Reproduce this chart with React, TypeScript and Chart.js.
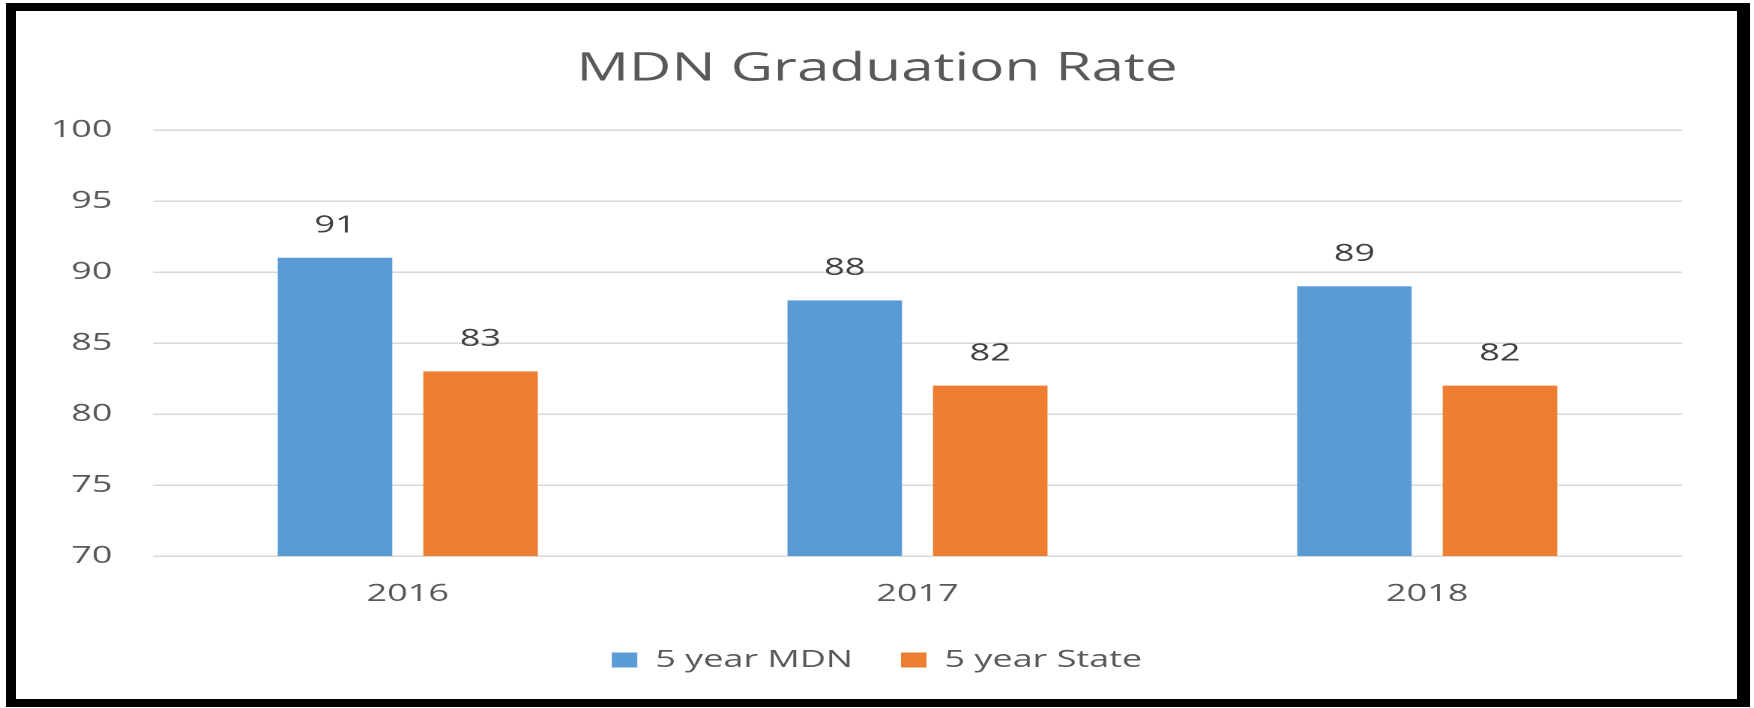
import React, { useEffect, useRef } from 'react';
import { Chart, registerables } from 'chart.js';

Chart.register(...registerables);

// ---- data ----
const chartTitle = 'MDN Graduation Rate';
const categories = ['2016', '2017', '2018'];
const mdnValues = [91, 88, 89];
const stateValues = [83, 82, 82];
const seriesNames = ['5 year MDN', '5 year State'];
const yMin = 70;
const yMax = 100;
const yStep = 5;

// ---- look ----
const PAGE_W = 1754;
const PAGE_H = 708;
const CANVAS_W = 1170; // internal width, stretched horizontally to PAGE_W
const FONT = "'Open Sans', sans-serif";
const BLUE = '#5B9BD5';
const ORANGE = '#ED7D31';
const TEXT = '#595959';
const GRID = '#d9d9d9';

const valueLabels = {
  id: 'valueLabels',
  afterDatasetsDraw(chart: any) {
    const ctx = chart.ctx;
    ctx.save();
    ctx.font = `24px ${FONT}`;
    ctx.fillStyle = '#404040';
    ctx.textAlign = 'center';
    ctx.textBaseline = 'middle';
    chart.data.datasets.forEach((ds: any, i: number) => {
      const meta = chart.getDatasetMeta(i);
      meta.data.forEach((el: any, j: number) => {
        ctx.fillText(String(ds.data[j]), el.x, el.y - 32);
      });
    });
    ctx.restore();
  },
};

export default function App() {
  const ref = useRef<HTMLCanvasElement | null>(null);

  useEffect(() => {
    const canvas = ref.current;
    if (!canvas) return;
    const chart = new Chart(canvas, {
      type: 'bar',
      data: {
        labels: categories,
        datasets: [
          { label: seriesNames[0], data: mdnValues, backgroundColor: BLUE, borderWidth: 0 },
          { label: seriesNames[1], data: stateValues, backgroundColor: ORANGE, borderWidth: 0 },
        ],
      },
      options: {
        animation: false,
        responsive: false,
        devicePixelRatio: 2,
        categoryPercentage: 0.571,
        barPercentage: 0.787,
        layout: { padding: { left: 24, right: 24, top: 0, bottom: 26 } },
        plugins: {
          title: {
            display: true,
            text: chartTitle,
            color: TEXT,
            font: { family: FONT, size: 39, weight: 'normal', lineHeight: 1.2 },
            padding: { top: 46, bottom: 37.2 },
          },
          legend: {
            display: true,
            position: 'bottom',
            labels: {
              color: TEXT,
              font: { family: FONT, size: 24 },
              boxWidth: 17,
              boxHeight: 15,
              padding: 32,
            },
          },
          tooltip: { enabled: false },
        },
        scales: {
          x: {
            grid: { display: false, drawTicks: false },
            border: { display: false },
            ticks: { color: TEXT, font: { family: FONT, size: 24, lineHeight: 1.2 }, padding: 23.6 },
            afterFit: (s: any) => { s.height = 60; },
          },
          y: {
            min: yMin,
            max: yMax,
            grid: { color: GRID, lineWidth: 1.5, drawTicks: false },
            border: { display: false },
            ticks: { stepSize: yStep, color: TEXT, font: { family: FONT, size: 24 }, padding: 27 },
            afterFit: (s: any) => { s.width = 78; },
          },
          yRight: {
            type: 'linear',
            position: 'right',
            display: true,
            grid: { display: false, drawTicks: false },
            border: { display: false },
            ticks: { display: false },
            afterFit: (s: any) => { s.width = 24; },
          },
        },
      } as any,
      plugins: [valueLabels],
    });
    return () => chart.destroy();
  }, []);

  return (
    <div style={{ position: 'absolute', left: 0, top: 0, width: PAGE_W, height: PAGE_H, background: '#fff', overflow: 'hidden' }}>
      <canvas
        ref={ref}
        width={CANVAS_W}
        height={PAGE_H}
        style={{ position: 'absolute', left: 0, top: 0, width: `${PAGE_W}px`, height: `${PAGE_H}px`, display: 'block' }}
      />
      <div
        style={{
          position: 'absolute',
          left: 6,
          top: 3,
          width: 1744,
          height: 704,
          boxSizing: 'border-box',
          borderStyle: 'solid',
          borderColor: '#000',
          borderWidth: '8px 13px 8px 10px',
          pointerEvents: 'none',
        }}
      />
    </div>
  );
}
